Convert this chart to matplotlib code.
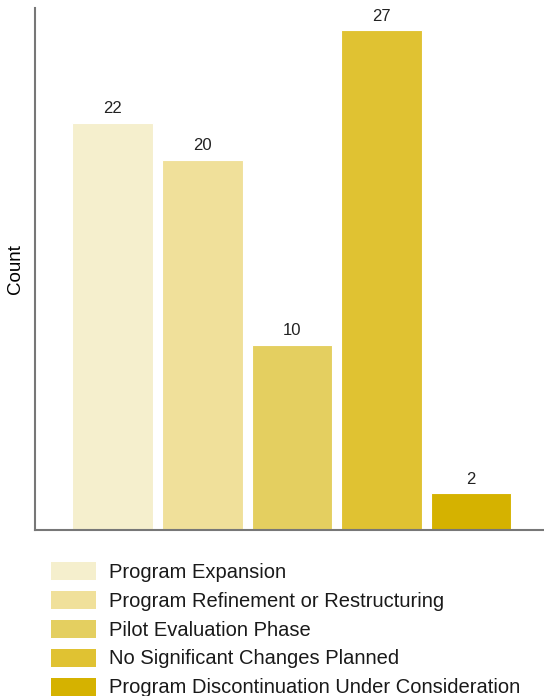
import matplotlib.pyplot as plt
from matplotlib.patches import Patch

plt.rcParams['font.family'] = ['Liberation Sans', 'DejaVu Sans']

categories = [
    "Program Expansion",
    "Program Refinement or Restructuring",
    "Pilot Evaluation Phase",
    "No Significant Changes Planned",
    "Program Discontinuation Under Consideration",
]
counts = [22, 20, 10, 27, 2]
colors = ["#F5EFCD", "#F0E09A", "#E4CF60", "#E0C232", "#D5B200"]

fig = plt.figure(figsize=(5.44, 6.96), dpi=100)
ax = fig.add_axes([0.064, 0.2385, 0.95, 0.75])

x = list(range(len(counts)))
bars = ax.bar(x, counts, width=0.9, color=colors, edgecolor="white", linewidth=0.8)
for b, v in zip(bars, counts):
    ax.text(b.get_x() + b.get_width() / 2, v + 0.35, str(v),
            ha="center", va="bottom", fontsize=12, color="#222222")

ax.set_xlim(-0.87, 4.9)
ax.set_ylim(0, 28.2)
ax.set_xticks([])
ax.set_yticks([])
ax.set_ylabel("Count", fontsize=13.5, labelpad=8)
for s in ["top", "right"]:
    ax.spines[s].set_visible(False)
for s in ["left", "bottom"]:
    ax.spines[s].set_color("#777777")
    ax.spines[s].set_linewidth(1.5)

handles = [Patch(facecolor=c, edgecolor="none") for c in colors]
fig.legend(handles, categories, loc="upper left", bbox_to_anchor=(0.094, 0.193),
           frameon=False, fontsize=14.5, borderpad=0, borderaxespad=0,
           handlelength=2.25, handleheight=1.0, handletextpad=0.6,
           labelspacing=0.45, labelcolor="#1a1a1a")

fig.savefig("out.png", dpi=100)
